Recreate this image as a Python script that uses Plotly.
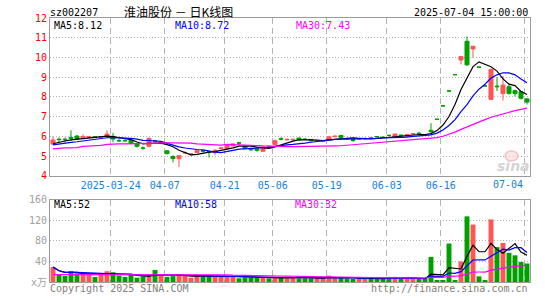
import plotly.graph_objects as go
import pandas as pd

# ---------------- data ----------------
dates = [
    "2025-03-10", "2025-03-11", "2025-03-12", "2025-03-13", "2025-03-14",
    "2025-03-17", "2025-03-18", "2025-03-19", "2025-03-20", "2025-03-21",
    "2025-03-24", "2025-03-25", "2025-03-26", "2025-03-27", "2025-03-28",
    "2025-03-31", "2025-04-01", "2025-04-02", "2025-04-03",
    "2025-04-07", "2025-04-08", "2025-04-09", "2025-04-10", "2025-04-11",
    "2025-04-14", "2025-04-15", "2025-04-16", "2025-04-17", "2025-04-18",
    "2025-04-21", "2025-04-22", "2025-04-23", "2025-04-24", "2025-04-25",
    "2025-04-28", "2025-04-29", "2025-04-30",
    "2025-05-06", "2025-05-07", "2025-05-08", "2025-05-09",
    "2025-05-12", "2025-05-13", "2025-05-14", "2025-05-15", "2025-05-16",
    "2025-05-19", "2025-05-20", "2025-05-21", "2025-05-22", "2025-05-23",
    "2025-05-26", "2025-05-27", "2025-05-28", "2025-05-29", "2025-05-30",
    "2025-06-03", "2025-06-04", "2025-06-05", "2025-06-06",
    "2025-06-09", "2025-06-10", "2025-06-11", "2025-06-12", "2025-06-13",
    "2025-06-16", "2025-06-17", "2025-06-18", "2025-06-19", "2025-06-20",
    "2025-06-23", "2025-06-24", "2025-06-25", "2025-06-26", "2025-06-27",
    "2025-06-30", "2025-07-01", "2025-07-02", "2025-07-03", "2025-07-04",
]

opens = [5.61, 5.86, 5.86, 5.95, 6.02, 5.93, 5.95, 5.98, 5.97, 5.98,
         6.00, 5.79, 5.79, 5.80, 5.62, 5.41, 5.50, 5.77, 5.64, 5.27,
         4.98, 4.87, 5.16, 5.07, 5.18, 5.27, 5.22, 5.18, 5.39, 5.40,
         5.52, 5.68, 5.52, 5.38, 5.38, 5.25, 5.50, 5.58, 5.88, 5.83,
         5.83, 5.92, 5.86, 5.85, 5.74, 5.74, 5.82, 5.99, 6.05, 5.89,
         5.86, 5.86, 5.88, 5.92, 5.99, 5.96, 6.06, 5.98, 6.07, 6.00,
         6.12, 6.16, 6.08, 6.31, 6.87, 7.55, 8.30, 9.13, 9.87, 10.82,
         10.43, 9.51, 8.56, 7.88, 8.55, 8.17, 8.52, 8.32, 8.27, 7.90]
highs = [6.00, 5.95, 5.95, 6.31, 6.07, 6.10, 6.01, 6.01, 6.02, 6.31,
         6.18, 5.87, 5.84, 5.83, 5.66, 5.50, 5.95, 5.82, 5.75, 5.30,
         5.05, 5.05, 5.25, 5.15, 5.30, 5.32, 5.26, 5.35, 5.48, 5.60,
         5.64, 5.72, 5.54, 5.42, 5.42, 5.50, 5.53, 5.85, 5.96, 5.90,
         5.88, 5.93, 5.90, 5.86, 5.79, 5.80, 6.03, 6.05, 6.07, 5.93,
         5.90, 5.92, 5.94, 5.95, 6.02, 5.99, 6.08, 6.14, 6.10, 6.13,
         6.17, 6.24, 6.12, 6.67, 6.87, 7.55, 8.33, 9.13, 10.05, 11.07,
         10.57, 9.51, 8.56, 9.40, 9.00, 9.07, 8.65, 8.37, 8.27, 7.95]
lows = [5.58, 5.68, 5.70, 5.78, 5.82, 5.88, 5.90, 5.92, 5.93, 5.96,
        5.70, 5.72, 5.74, 5.63, 5.43, 5.33, 5.45, 5.68, 5.60, 5.08,
        4.68, 4.45, 5.10, 5.03, 5.16, 5.20, 4.93, 5.05, 5.35, 5.33,
        5.50, 5.55, 5.36, 5.25, 5.22, 5.21, 5.45, 5.55, 5.80, 5.78,
        5.80, 5.80, 5.82, 5.75, 5.72, 5.72, 5.80, 5.96, 5.93, 5.84,
        5.72, 5.84, 5.86, 5.87, 5.93, 5.92, 6.00, 5.97, 5.96, 5.99,
        6.09, 6.08, 6.05, 6.10, 6.87, 7.55, 8.28, 9.13, 9.65, 9.56,
        9.98, 9.51, 8.56, 7.86, 8.30, 7.82, 8.12, 8.03, 7.87, 7.62]
closes = [5.82, 5.84, 5.84, 5.90, 5.87, 6.00, 5.99, 5.96, 5.99, 6.12,
          5.87, 5.78, 5.78, 5.65, 5.50, 5.40, 5.90, 5.76, 5.72, 5.13,
          4.88, 5.02, 5.18, 5.11, 5.28, 5.25, 5.20, 5.30, 5.41, 5.57,
          5.62, 5.66, 5.38, 5.33, 5.30, 5.47, 5.48, 5.78, 5.86, 5.85,
          5.85, 5.82, 5.85, 5.78, 5.76, 5.76, 5.98, 6.01, 5.95, 5.88,
          5.80, 5.88, 5.90, 5.91, 5.98, 5.95, 6.05, 6.12, 5.98, 6.10,
          6.14, 6.15, 6.07, 6.25, 6.87, 7.55, 8.30, 9.13, 10.05, 9.63,
          10.57, 9.51, 8.56, 9.40, 8.52, 8.60, 8.18, 8.17, 7.93, 7.74]
volumes = [29, 15, 12, 21, 17, 16, 15, 10, 15, 21,
           19, 12.5, 10, 14, 8.5, 11, 10, 23.5, 13, 10,
           11.5, 13, 13, 8.5, 11.5, 10, 10, 11.5, 11.5, 11.5,
           11, 7.3, 8.6, 8.6, 7.9, 8.9, 7.3, 8.5, 8.5, 11,
           8, 7.2, 7.2, 7.2, 8.5, 8.5, 12.4, 8.5, 8.5, 7.2,
           6, 7, 6, 6, 6, 7, 10, 10, 6, 7,
           7, 6, 7, 49, 4, 4, 75, 4, 40, 128,
           112, 11, 4, 122, 68, 76, 57, 52, 39, 36]

# moving-average values before enough history is visible
ma5_head = [5.63, 5.72, 5.77, 5.83]
ma10_head = [5.57, 5.62, 5.67, 5.70, 5.73, 5.77, 5.82, 5.85, 5.87]
ma30_head = [5.37, 5.40, 5.42, 5.42, 5.43, 5.50, 5.52, 5.52, 5.55, 5.60,
             5.62, 5.62, 5.62, 5.63, 5.65, 5.66, 5.66, 5.66, 5.67, 5.67,
             5.67, 5.67, 5.67, 5.66, 5.62, 5.60, 5.60, 5.58, 5.56]
vma30_head = [14.5] * 10 + [14.8] * 13 + [13.8] * 6

tick_dates = ["2025-03-24", "2025-04-07", "2025-04-21", "2025-05-06",
              "2025-05-19", "2025-06-03", "2025-06-16", "2025-07-04"]
tick_labels = ["2025-03-24", "04-07", "04-21", "05-06",
               "05-19", "06-03", "06-16", "07-04"]

stock_code = "sz002207"
chart_title = "淮油股份 － 日K线图"
stamp = "2025-07-04 15:00:00"

# ---------------- derived series ----------------
n = len(dates)
idx = list(range(n))
cs = pd.Series(closes)
vs = pd.Series(volumes)


def with_head(series, window, head):
    out = series.rolling(window).mean().tolist()
    for i, v in enumerate(head):
        out[i] = v
    return out


ma5 = with_head(cs, 5, ma5_head)
ma10 = with_head(cs, 10, ma10_head)
ma30 = with_head(cs, 30, ma30_head)
vma5 = vs.rolling(5, min_periods=1).mean().tolist()
vma10 = vs.rolling(10, min_periods=1).mean().tolist()
vma30 = with_head(vs, 30, vma30_head)

RED = "#ff5555"
GREEN = "#00a000"
up = [c > o for o, c in zip(opens, closes)]

fig = go.Figure()


def candle(sel, color):
    ii = [i for i in idx if sel(i)]
    fig.add_trace(go.Candlestick(
        x=ii,
        open=[opens[i] for i in ii], high=[highs[i] for i in ii],
        low=[lows[i] for i in ii], close=[closes[i] for i in ii],
        increasing=dict(line=dict(color=color, width=1), fillcolor=color),
        decreasing=dict(line=dict(color=color, width=1), fillcolor=color),
        whiskerwidth=0, xaxis="x", yaxis="y", hoverinfo="skip"))


candle(lambda i: up[i], RED)
candle(lambda i: not up[i], GREEN)

for ser, col in ((ma5, "#000000"), (ma10, "#0000ff"), (ma30, "#ff00ff")):
    fig.add_trace(go.Scatter(x=idx, y=ser, mode="lines",
                             line=dict(color=col, width=1.2),
                             xaxis="x", yaxis="y", hoverinfo="skip"))

fig.add_trace(go.Bar(x=idx, y=volumes, width=0.82,
                     marker=dict(color=[RED if u else GREEN for u in up], line=dict(width=0)),
                     xaxis="x2", yaxis="y2", hoverinfo="skip"))
for ser, col in ((vma5, "#000000"), (vma10, "#0000ff"), (vma30, "#ff00ff")):
    fig.add_trace(go.Scatter(x=idx, y=ser, mode="lines",
                             line=dict(color=col, width=1.2),
                             xaxis="x2", yaxis="y2", hoverinfo="skip"))

# ---------------- layout ----------------
PL, PR, PT, PB = 50, 530, 17, 285
W, H = PR - PL, PB - PT


def ax(px):
    return (px - PL) / W


def ay(py):
    return (PB - py) / H


tick_pos = [dates.index(d) - 0.37 for d in tick_dates]
tick_text = tick_labels[:-1] + [""]

MONO = "DejaVu Sans Mono, Noto Sans CJK SC, monospace"
GRID = "#b4b4b4"
BORDER = "#9a9a9a"

common_x = dict(range=[-0.5, n - 0.5], tickvals=tick_pos, showgrid=True,
                gridcolor=GRID, griddash="6px,4px", gridwidth=1.3,
                showline=True, mirror=True, linecolor=BORDER, linewidth=1,
                ticks="", zeroline=False, fixedrange=True)

fig.update_layout(
    width=545, height=300,
    margin=dict(l=PL, r=545 - PR, t=PT, b=300 - PB),
    paper_bgcolor="white", plot_bgcolor="white",
    showlegend=False, hovermode=False,
    boxgap=0.33, boxgroupgap=0,
    xaxis=dict(common_x, domain=[0, 1], anchor="y", ticktext=tick_text,
               tickfont=dict(family=MONO, size=10, color="#1a7fd0"),
               rangeslider=dict(visible=False)),
    yaxis=dict(domain=[(PB - 177.3) / H, 1], range=[4, 12], anchor="x",
               tickvals=list(range(4, 13)), showgrid=True, gridcolor=GRID,
               griddash="1px,2px", gridwidth=1, showline=True, mirror=True,
               linecolor=BORDER, linewidth=1, ticks="", zeroline=False,
               tickfont=dict(family=MONO, size=10, color="#ff0000")),
    xaxis2=dict(common_x, domain=[0, 1], anchor="y2", showticklabels=False),
    yaxis2=dict(domain=[0, (PB - 201.7) / H], range=[0, 160], anchor="x2",
                tickvals=[0, 40, 80, 120, 160],
                ticktext=["x万", "40", "80", "120", "160"],
                showgrid=True, gridcolor=GRID, griddash="1px,2px", gridwidth=1,
                showline=True, mirror=True, linecolor=BORDER, linewidth=1,
                ticks="", zeroline=False,
                tickfont=dict(family=MONO, size=10, color="#a0a0a0")),
)


def note(text, px, py, color="#000000", anchor="left", size=10, family=MONO, **kw):
    fig.add_annotation(text=text, x=ax(px), y=ay(py), xref="paper", yref="paper",
                       xanchor=anchor, yanchor="middle", showarrow=False,
                       font=dict(family=family, size=size, color=color), **kw)


note(stock_code, 48, 11)
note(chart_title, 178, 10.5, anchor="center", size=12,
     family="Noto Sans CJK SC, sans-serif")
note(stamp, 530, 11.5, anchor="right")

note(f"MA5:{ma5[-1]:.2f}", 52, 24.5, "#000000")
note(f"MA10:{ma10[-1]:.2f}", 173, 24.5, "#0000ff")
note(f"MA30:{ma30[-1]:.2f}", 294, 24.5, "#ff00ff")

note(f"MA5:{round(vma5[-1])}", 52, 206.5, "#000000")
note(f"MA10:{round(vma10[-1])}", 173, 206.5, "#0000ff")
note(f"MA30:{round(vma30[-1])}", 293, 206.5, "#ff00ff")

note(tick_labels[-1], 524.5, 186.5, "#1a7fd0", anchor="right")

note("Copyright 2025 SINA.COM", 48, 292, "#808080")
note("http://finance.sina.com.cn", 530, 292, "#808080", anchor="right")

# faint sina watermark
fig.add_shape(type="circle", xref="paper", yref="paper",
              x0=ax(505), x1=ax(518), y0=ay(162), y1=ay(152),
              line=dict(color="#f2c4c4", width=1.5), fillcolor="rgba(250,215,215,0.6)")
note("<i><b>sina</b></i>", 513, 167, "#d4d4d4", anchor="center", size=14,
     family="DejaVu Sans, sans-serif")

fig.write_html("out.html")
